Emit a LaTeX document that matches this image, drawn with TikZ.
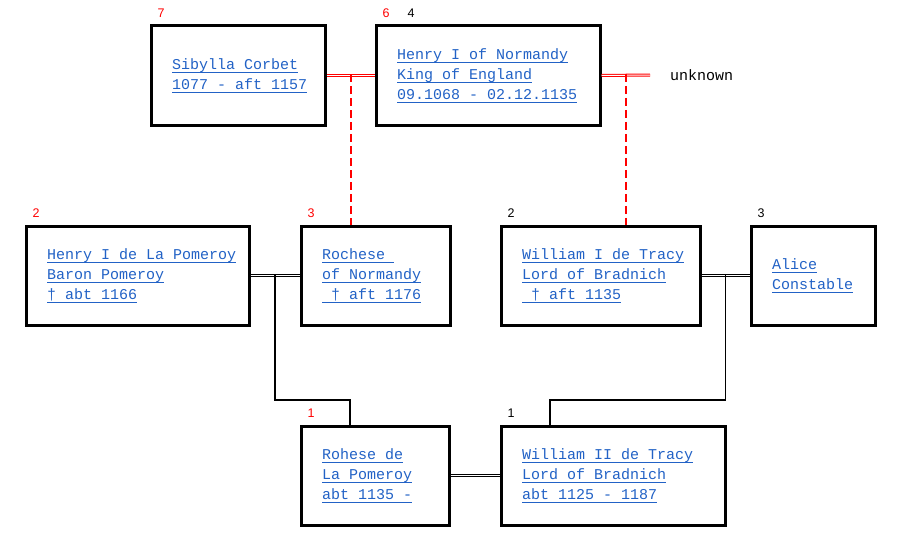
\documentclass[tikz,border=0pt]{standalone}
\usepackage{fontspec}
\setmainfont{Liberation Sans}
\newfontfamily\monofam{Liberation Mono}
\usetikzlibrary{calc}
\definecolor{lnk}{HTML}{2262C6}
\definecolor{rd}{HTML}{FF0000}
\newcommand\ulx[1]{\setbox0=\hbox{#1}\rlap{\rule[-3.5pt]{\wd0}{0.9pt}}\box0}
\newcommand\monof{\monofam\fontsize{15}{20}\selectfont}
\begin{document}
\begin{tikzpicture}[x=1pt,y=-1pt,
  box/.style={draw, line width=3pt, fill=white, inner sep=0pt, minimum height=99pt},
  txt/.style={anchor=west, align=left, text=lnk, font=\monof, inner sep=0pt},
  num/.style={font=\fontsize{12.5}{13}\selectfont, inner sep=0pt},
  dbl/.style={double=white, double distance=1pt, line width=1pt},
  kin/.style={line width=1.8pt},
  reddash/.style={draw=rd, line width=2pt, dash pattern=on 8pt off 4pt}
]
\useasboundingbox (0,0) rectangle (901,551);
% boxes
\node[box, minimum width=174pt] (sib) at (238,75.5) {};
\node[box, minimum width=224pt] (hen) at (488,75.5) {};
\node[box, minimum width=223pt] (pom) at (137.5,275.5) {};
\node[box, minimum width=149pt] (roc) at (375.5,275.5) {};
\node[box, minimum width=199pt] (wil) at (600.5,275.5) {};
\node[box, minimum width=124pt] (ali) at (813,275.5) {};
\node[box, minimum width=148pt] (roh) at (375,475.5) {};
\node[box, minimum width=224pt] (wi2) at (613,475.5) {};
% texts
\node[txt] (tsib) at ([xshift=22.5]sib.west) {\ulx{Sibylla Corbet}\\\ulx{1077 - aft 1157}};
\node[txt] (then) at ([xshift=22.5]hen.west) {\ulx{Henry I of Normandy}\\\ulx{King of England}\\\ulx{09.1068 - 02.12.1135}};
\node[txt] (tpom) at ([xshift=22.5]pom.west) {\ulx{Henry I de La Pomeroy}\\\ulx{Baron Pomeroy}\\\ulx{† abt 1166}};
\node[txt] (troc) at ([xshift=22.5]roc.west) {\ulx{Rochese~}\\\ulx{of Normandy}\\\ulx{~† aft 1176}};
\node[txt] (twil) at ([xshift=22.5]wil.west) {\ulx{William I de Tracy}\\\ulx{Lord of Bradnich}\\\ulx{~† aft 1135}};
\node[txt] (tali) at ([xshift=22.5]ali.west) {\ulx{Alice}\\\ulx{Constable}};
\node[txt] (troh) at ([xshift=22.5]roh.west) {\ulx{Rohese de}\\\ulx{La Pomeroy}\\\ulx{abt 1135 -}};
\node[txt] (twi2) at ([xshift=22.5]wi2.west) {\ulx{William II de Tracy}\\\ulx{Lord of Bradnich}\\\ulx{abt 1125 - 1187}};
% numbers
\node[num, text=rd] (n7) at ([shift={(11.5,-11)}]sib.north west) {7};
\node[num, text=rd] (n6) at ([shift={(11.5,-11)}]hen.north west) {6};
\node[num] (n4) at ([shift={(36.5,-11)}]hen.north west) {4};
\node[num, text=rd] (n2a) at ([shift={(11.5,-11)}]pom.north west) {2};
\node[num, text=rd] (n3a) at ([shift={(11.5,-11)}]roc.north west) {3};
\node[num] (n2b) at ([shift={(11.5,-11)}]wil.north west) {2};
\node[num] (n3b) at ([shift={(11.5,-11)}]ali.north west) {3};
\node[num, text=rd] (n1a) at ([shift={(11.5,-11)}]roh.north west) {1};
\node[num] (n1b) at ([shift={(11.5,-11)}]wi2.north west) {1};
% unknown
\coordinate (unk) at (650,75);
\node[anchor=west, font=\monof, inner sep=0pt] (tunk) at ([xshift=20]unk) {unknown};
% couples
\draw[dbl, draw=rd] (sib.east) -- (hen.west) coordinate[midway] (m1);
\draw[dbl, draw=rd] (hen.east) -- (unk) coordinate[midway] (m2);
\draw[dbl] (pom.east) -- (roc.west) coordinate[midway] (m3);
\draw[dbl] (wil.east) -- (ali.west) coordinate[midway] (m4);
\draw[dbl] (roh.east) -- (wi2.west);
% descent
\draw[reddash] ([yshift=1.5]m1) -- (m1 |- roc.north);
\draw[reddash] ([yshift=1.5]m2) -- (m2 |- wil.north);
\coordinate (c1) at ([xshift=50.5]roh.north west);
\coordinate (c2) at ([xshift=50.5]wi2.north west);
\draw[kin] ([yshift=1.5]m3) -- (m3 |- 0,400) -| (c1);
\draw[kin] ([yshift=1.5]m4) -- (m4 |- 0,400) -| (c2);
\end{tikzpicture}
\end{document}
